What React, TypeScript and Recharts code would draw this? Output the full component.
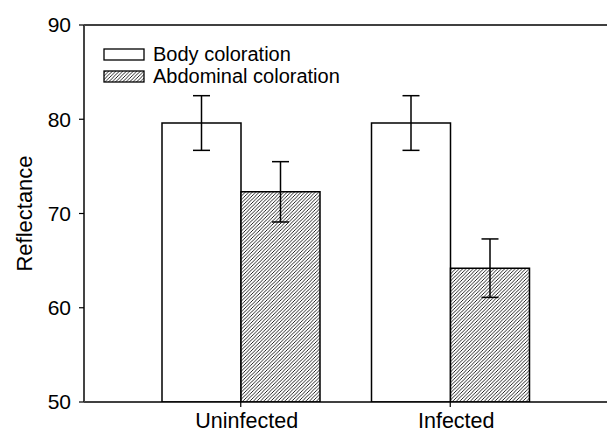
import { BarChart, Bar, XAxis, YAxis, ErrorBar, Legend, ReferenceLine } from 'recharts'

const groups = ['Uninfected', 'Infected']
const bodyValues = [79.6, 79.6]
const bodyErrors = [2.9, 2.9]
const abdominalValues = [72.3, 64.2]
const abdominalErrors = [3.2, 3.1]
const yTicks = [50, 60, 70, 80, 90]
const seriesOrder = ['body', 'abdominal']

const data = groups.map((g, i) => ({
  group: g,
  body: bodyValues[i],
  bodyErr: bodyErrors[i],
  abdominal: abdominalValues[i],
  abdominalErr: abdominalErrors[i],
}))

const FONT = '"Liberation Sans", Arial, sans-serif'

function LegendBox({ payload }: any) {
  const items = [...(payload || [])].sort(
    (a: any, b: any) => seriesOrder.indexOf(a.dataKey) - seriesOrder.indexOf(b.dataKey))
  return (
    <div style={{ fontFamily: FONT, fontSize: 20, color: '#000', lineHeight: '22px' }}>
      {items.map((p: any) => (
        <div key={p.value} style={{ display: 'flex', alignItems: 'center', height: 22 }}>
          <svg width={42} height={13} style={{ marginRight: 8 }}>
            <rect x={1} y={1} width={40} height={11}
              fill={p.dataKey === 'abdominal' ? 'url(#hatch)' : '#fff'}
              stroke="#000" strokeWidth={1.3} />
          </svg>
          <span>{p.value}</span>
        </div>
      ))}
    </div>
  )
}

function YLabel({ viewBox }: any) {
  const cx = 24
  const cy = viewBox.y + viewBox.height / 2
  return (
    <text x={cx} y={cy} transform={`rotate(-90, ${cx}, ${cy})`} textAnchor="middle"
      dominantBaseline="central" fontFamily={FONT} fontSize={22} fill="#000">
      Reflectance
    </text>
  )
}

export default function App() {
  return (
    <div style={{ position: 'absolute', left: 0, top: 0, background: '#fff' }}>
      <BarChart width={607} height={434} data={data} barSize={79} barGap={0}
        margin={{ top: 25, right: 0, left: 0, bottom: 0 }}>
        <defs>
          <pattern id="hatch" patternUnits="userSpaceOnUse" width={3.5} height={3.5}>
            <rect width={3.5} height={3.5} fill="#fff" />
            <path d="M-1,1 l2,-2 M0,3.5 l3.5,-3.5 M2.5,4.5 l2,-2" stroke="#000" strokeWidth={0.85} />
          </pattern>
        </defs>
        <XAxis dataKey="group" height={32} padding={{ left: 52, right: 52 }}
          tickSize={5} tickMargin={6}
          axisLine={{ stroke: '#000', strokeWidth: 1.5 }} tickLine={{ stroke: '#000', strokeWidth: 1.2 }}
          tick={{ fontFamily: FONT, fontSize: 21.5, fill: '#000', dx: 6 }} />
        <YAxis domain={[50, 90]} ticks={yTicks} allowDataOverflow width={84}
          tickSize={5} tickMargin={8}
          axisLine={{ stroke: '#444', strokeWidth: 2 }} tickLine={{ stroke: '#000', strokeWidth: 1.2 }}
          tick={{ fontFamily: FONT, fontSize: 21, fill: '#000' }}
          label={<YLabel />} />
        <ReferenceLine y={90} stroke="#000" strokeWidth={1.5} />
        <Legend layout="vertical" align="center" verticalAlign="middle" content={<LegendBox />}
          wrapperStyle={{ left: 103, top: 43, width: 'auto', height: 'auto' }} />
        <Bar dataKey="body" name="Body coloration" fill="#fff" stroke="#000" strokeWidth={1.5}
          isAnimationActive={false}>
          <ErrorBar dataKey="bodyErr" width={8.5} stroke="#000" strokeWidth={1.5} />
        </Bar>
        <Bar dataKey="abdominal" name="Abdominal coloration" fill="url(#hatch)" stroke="#000"
          strokeWidth={1.5} isAnimationActive={false}>
          <ErrorBar dataKey="abdominalErr" width={8.5} stroke="#000" strokeWidth={1.5} />
        </Bar>
      </BarChart>
    </div>
  )
}
